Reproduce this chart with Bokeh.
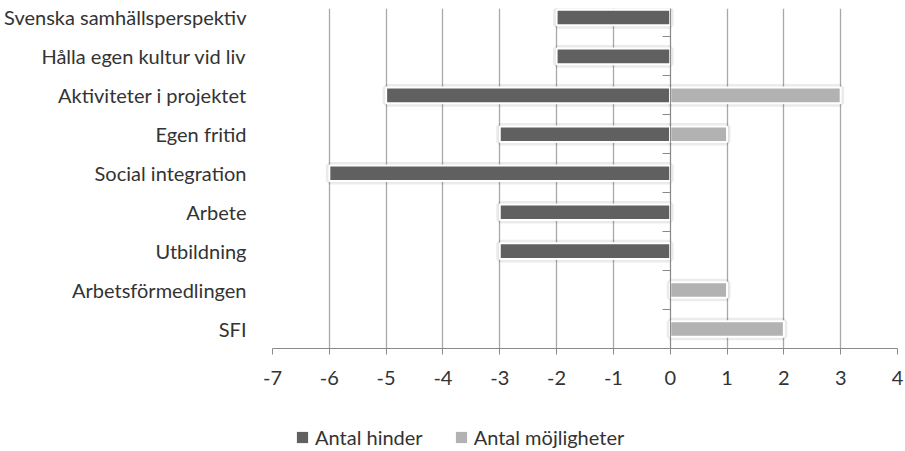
from bokeh.plotting import figure
from bokeh.layouts import column
from bokeh.models import Range1d, LinearAxis, FixedTicker, Legend, LegendItem, ColumnDataSource
from bokeh.embed import file_html
from bokeh.resources import INLINE

categories = ["Svenska samhällsperspektiv", "Hålla egen kultur vid liv", "Aktiviteter i projektet",
              "Egen fritid", "Social integration", "Arbete", "Utbildning",
              "Arbetsförmedlingen", "SFI"]
hinder = [-2, -2, -5, -3, -6, -3, -3, 0, 0]
mojligheter = [0, 0, 3, 1, 0, 0, 0, 1, 2]
x_ticks = list(range(-7, 5))
x_tick_labels = [str(t) for t in x_ticks]
series_names = ["Antal hinder", "Antal möjligheter"]

FONT = "Lato"
TXT = "#333333"
DARK = "#606060"
LIGHT = "#b2b2b2"
n = len(categories)
ypos = [n - i for i in range(n)]

def src(vals):
    d = [(y, v) for y, v in zip(ypos, vals) if v != 0]
    return ColumnDataSource(dict(y=[a for a, _ in d], v=[b for _, b in d], z=[0] * len(d)))

p = figure(width=905, height=408, output_backend="svg", toolbar_location=None,
           x_range=Range1d(x_ticks[0], x_ticks[-1]), y_range=Range1d(0.5, n + 0.23),
           min_border_left=272, min_border_right=8, min_border_top=8, min_border_bottom=60)
p.outline_line_color = None

# grid
p.xgrid.ticker = FixedTicker(ticks=x_ticks)
p.xgrid.grid_line_color = "#a8a8a8"
p.xgrid.grid_line_width = 1.3
p.ygrid.grid_line_color = None

# x axis
p.xaxis.ticker = FixedTicker(ticks=x_ticks)
p.xaxis.major_label_overrides = dict(zip(x_ticks, x_tick_labels))
p.xaxis.axis_line_color = "#8a8a8a"
p.xaxis.major_tick_line_color = "#8a8a8a"
p.xaxis.major_tick_out = 6
p.xaxis.major_tick_in = 0
p.xaxis.minor_tick_line_color = None
p.xaxis.major_label_standoff = 16
p.xaxis.major_label_text_font = FONT
p.xaxis.major_label_text_font_size = "20px"
p.xaxis.major_label_text_color = TXT

# category label axis
p.yaxis.ticker = FixedTicker(ticks=ypos)
p.yaxis.major_label_overrides = {y: c for y, c in zip(ypos, categories)}
p.yaxis.axis_line_color = None
p.yaxis.major_tick_line_color = None
p.yaxis.minor_tick_line_color = None
p.yaxis.major_label_standoff = 20
p.yaxis.major_label_text_font = FONT
p.yaxis.major_label_text_font_size = "20px"
p.yaxis.major_label_text_color = TXT

# zero line with category boundary ticks
bounds = [y + 0.5 for y in ypos]
zero_axis = LinearAxis(fixed_location=0, ticker=FixedTicker(ticks=bounds),
                       axis_line_color="#8a8a8a", major_tick_line_color="#8a8a8a",
                       major_tick_in=8, major_tick_out=0, minor_tick_line_color=None,
                       major_label_overrides={b: "" for b in bounds},
                       major_label_text_color=None, major_label_text_font_size="1px",
                       major_label_standoff=0)
p.add_layout(zero_axis, "right")

s_h = src(hinder)
s_m = src(mojligheter)

# soft shadows
for s in (s_h, s_m):
    p.hbar(y="y", left="v", right="z", height=0.4, source=s, fill_color=None,
           line_color="black", line_alpha=0.08, line_width=7)

p.hbar(y="y", left="v", right="z", height=0.4, source=s_h,
       fill_color=DARK, line_color="white", line_width=2)
p.hbar(y="y", left="z", right="v", height=0.4, source=s_m,
       fill_color=LIGHT, line_color="white", line_width=2)

# legend strip below the chart
pl = figure(width=905, height=43, output_backend="svg", toolbar_location=None,
            x_axis_location=None, y_axis_location=None,
            x_range=Range1d(0, 1), y_range=Range1d(0, 1),
            min_border_left=0, min_border_right=0, min_border_top=0, min_border_bottom=0)
pl.outline_line_color = None
pl.grid.grid_line_color = None
lh = pl.hbar(y="y", left="v", right="z", height=0.4, source=s_h,
             fill_color=DARK, line_color=None, visible=False)
lm = pl.hbar(y="y", left="z", right="v", height=0.4, source=s_m,
             fill_color=LIGHT, line_color=None, visible=False)
legend = Legend(items=[LegendItem(label=series_names[0], renderers=[lh]),
                       LegendItem(label=series_names[1], renderers=[lm])],
                orientation="horizontal", location=(23, 2),
                border_line_color=None, background_fill_alpha=0,
                inactive_fill_alpha=0,
                padding=0, margin=0, spacing=31,
                glyph_width=14, glyph_height=14, label_standoff=6,
                label_text_font=FONT, label_text_font_size="20px", label_text_color=TXT)
pl.add_layout(legend, "center")

layout = column(p, pl, spacing=0)
open("out.html", "w").write(file_html(layout, INLINE))
